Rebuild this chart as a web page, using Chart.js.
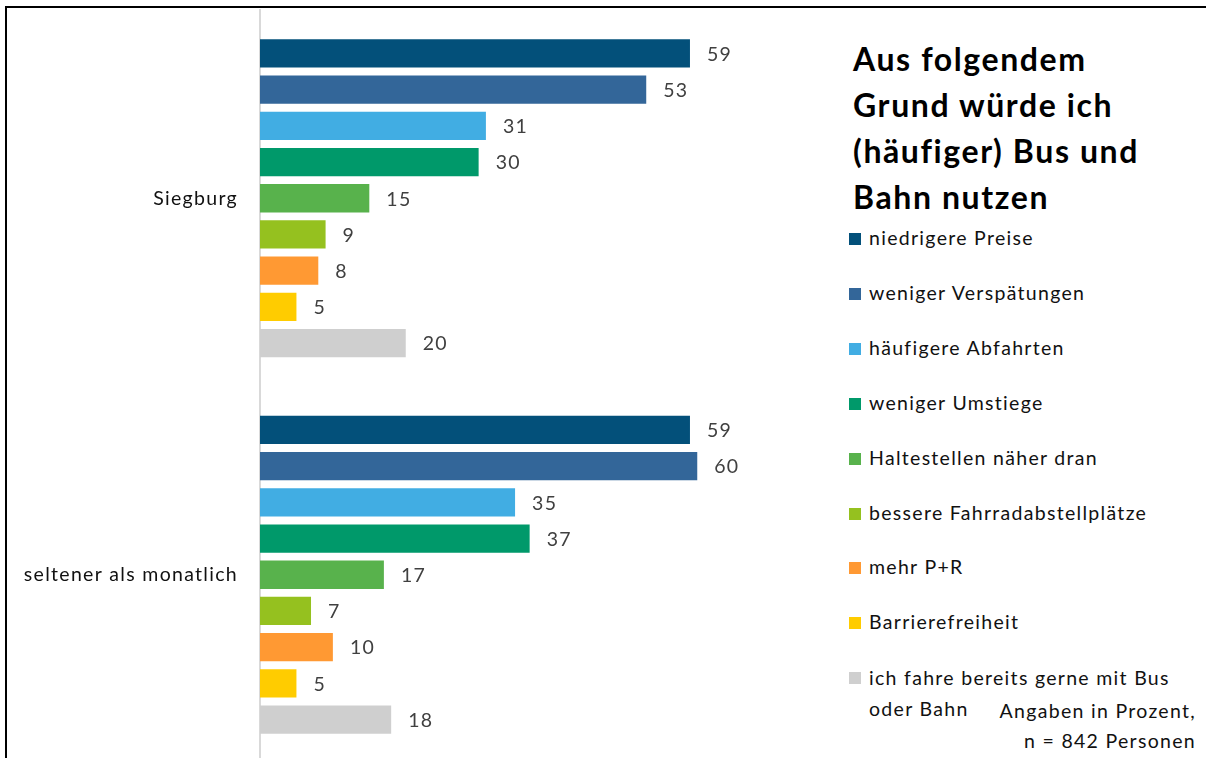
<!DOCTYPE html>
<html>
<head>
<meta charset="utf-8">
<script src="https://cdn.jsdelivr.net/npm/chart.js@4/dist/chart.umd.min.js"></script>
<style>
  html, body { margin: 0; padding: 0; width: 1206px; height: 758px; overflow: hidden; background: #fff; }
  #frame { position: absolute; left: 5px; top: 6px; width: 1300px; height: 900px; border-left: 2px solid #000; border-top: 2px solid #000; }
  #wrap { position: absolute; left: 0; top: 0; width: 843px; height: 766px; }
  #legend { position: absolute; left: 849px; top: 0; width: 357px; font-family: Lato, "Open Sans", sans-serif; color: #111; }
  #title { position: absolute; left: 4px; top: 36px; font-weight: bold; font-size: 32px; line-height: 46px; letter-spacing: 1.6px; color: #000; white-space: nowrap; }
  .item { position: absolute; left: 0; height: 20px; font-size: 19.5px; letter-spacing: 1.3px; white-space: nowrap; }
  .sw { position: absolute; left: 0; top: 4px; width: 12px; height: 12px; }
  .txt { position: absolute; left: 20px; top: -1px; line-height: 20px; }
</style>
</head>
<body>
<div id="frame"></div>
<div id="wrap"><canvas id="c"></canvas></div>
<div id="legend">
  <div id="title">Aus folgendem<br>Grund würde ich<br>(häufiger) Bus und<br>Bahn nutzen</div>
</div>
<script>
const categories = ["Siegburg", "seltener als monatlich"];
const seriesNames = [
  "niedrigere Preise",
  "weniger Verspätungen",
  "häufigere Abfahrten",
  "weniger Umstiege",
  "Haltestellen näher dran",
  "bessere Fahrradabstellplätze",
  "mehr P+R",
  "Barrierefreiheit",
  "ich fahre bereits gerne mit Bus oder Bahn"
];
const niedrigerePreise = [59, 59];
const wenigerVerspaetungen = [53, 60];
const haeufigereAbfahrten = [31, 35];
const wenigerUmstiege = [30, 37];
const haltestellenNaeher = [15, 17];
const fahrradabstellplaetze = [9, 7];
const mehrPR = [8, 10];
const barrierefreiheit = [5, 5];
const bereitsGerne = [20, 18];
const seriesValues = [niedrigerePreise, wenigerVerspaetungen, haeufigereAbfahrten, wenigerUmstiege,
  haltestellenNaeher, fahrradabstellplaetze, mehrPR, barrierefreiheit, bereitsGerne];
const colors = ["#03507a", "#336699", "#41ade3", "#00996a", "#58b24c", "#95c11f", "#ff9933", "#ffcc00", "#cfcfcf"];
const legendTitle = "Aus folgendem Grund würde ich (häufiger) Bus und Bahn nutzen";
const noteText = ["Angaben in Prozent,", "n = 842 Personen"];

// HTML legend
const legend = document.getElementById('legend');
seriesNames.forEach((name, i) => {
  const it = document.createElement('div');
  it.className = 'item';
  it.style.top = (229 + i * 54.9) + 'px';
  const sw = document.createElement('div');
  sw.className = 'sw';
  sw.style.background = colors[i];
  it.appendChild(sw);
  const t = document.createElement('div');
  t.className = 'txt';
  if (i === seriesNames.length - 1) {
    t.style.lineHeight = '31px';
    t.style.top = '-6px';
    t.innerHTML = 'ich fahre bereits gerne mit Bus<br>oder Bahn';
  } else {
    t.textContent = name;
  }
  it.appendChild(t);
  legend.appendChild(it);
});
const n1 = document.createElement('div');
n1.className = 'item';
n1.style.left = 'auto'; n1.style.right = '10px'; n1.style.top = '699px';
n1.textContent = noteText[0];
legend.appendChild(n1);
const n2 = document.createElement('div');
n2.className = 'item';
n2.style.left = 'auto'; n2.style.right = '10px'; n2.style.top = '729px';
n2.textContent = noteText[1];
legend.appendChild(n2);

const FONT = 'Lato, "Open Sans", sans-serif';
const valueLabels = {
  id: 'valueLabels',
  afterDatasetsDraw(chart) {
    const ctx = chart.ctx;
    ctx.save();
    ctx.letterSpacing = '1.3px';
    ctx.font = '19.5px ' + FONT;
    ctx.fillStyle = '#404040';
    ctx.textAlign = 'left';
    ctx.textBaseline = 'middle';
    chart.data.datasets.forEach((ds, di) => {
      const meta = chart.getDatasetMeta(di);
      meta.data.forEach((el, i) => {
        ctx.fillText(String(ds.data[i]), el.x + 17, el.y + 1);
      });
    });
    ctx.restore();
  }
};
const spacing = {
  id: 'spacing',
  beforeDraw(chart) { chart.ctx.letterSpacing = '1.3px'; }
};

new Chart(document.getElementById('c'), {
  type: 'bar',
  data: {
    labels: categories,
    datasets: seriesNames.map((name, i) => ({
      label: name,
      data: seriesValues[i],
      backgroundColor: colors[i],
      borderWidth: 0,
      categoryPercentage: 0.866,
      barPercentage: 0.78
    }))
  },
  options: {
    indexAxis: 'y',
    responsive: true,
    maintainAspectRatio: false,
    animation: false,
    layout: { padding: { top: 10, bottom: 3, left: 0, right: 0 } },
    plugins: { legend: { display: false }, tooltip: { enabled: false } },
    scales: {
      x: { display: false, min: 0, max: 80 },
      y: {
        afterFit(scale) { scale.width = 260; scale.paddingTop = 0; scale.paddingBottom = 0; },
        grid: { display: false, drawTicks: false },
        border: { display: true, color: '#d9d9d9', width: 2 },
        ticks: { color: '#111', padding: 22, font: { family: FONT, size: 19.5 } }
      }
    }
  },
  plugins: [spacing, valueLabels]
});
</script>
</body>
</html>
